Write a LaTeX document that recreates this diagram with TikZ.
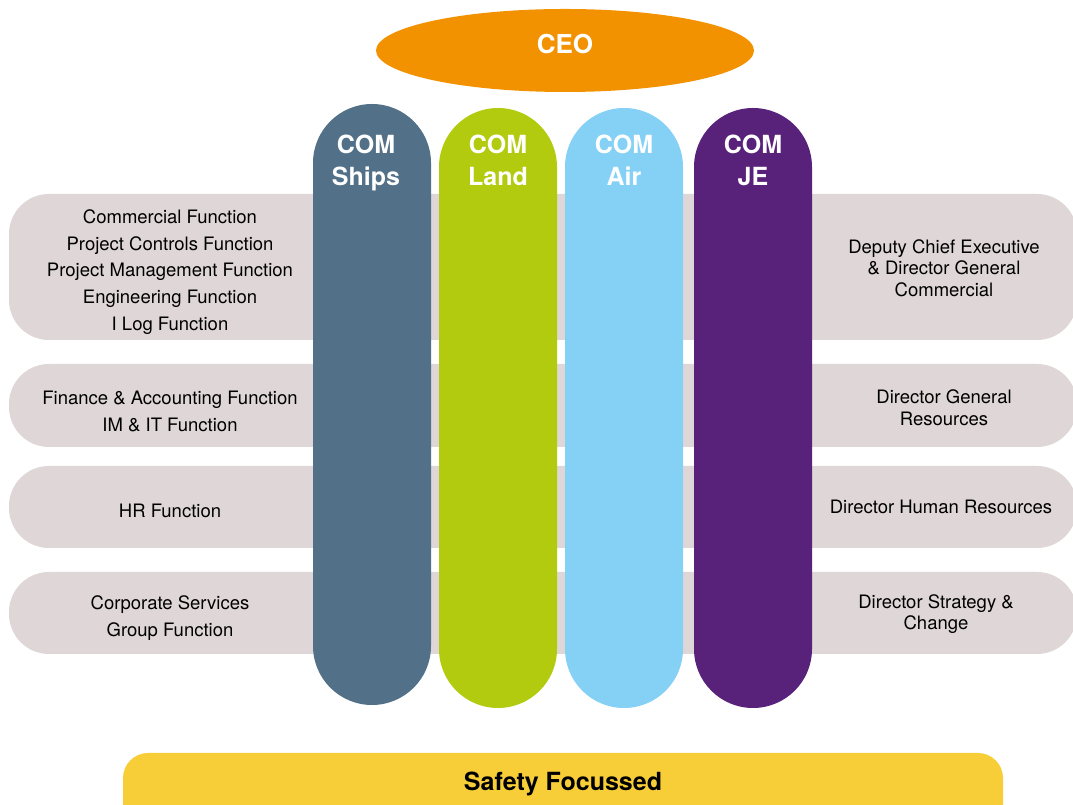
\documentclass[tikz,border=0pt]{standalone}
\usepackage{fontspec}
\setmainfont{TeX Gyre Heros}
\usepackage{tikz}
\usetikzlibrary{positioning,shapes.geometric}

\definecolor{ceoorange}{HTML}{F39200}
\definecolor{shipsblue}{HTML}{527189}
\definecolor{landgreen}{HTML}{B2CB0E}
\definecolor{airblue}{HTML}{84D1F5}
\definecolor{jepurple}{HTML}{58217A}
\definecolor{bandgrey}{HTML}{DFD7D7}
\definecolor{safetyyellow}{HTML}{F7CE38}

\tikzset{
  band/.style={rectangle, fill=bandgrey, rounded corners=40pt, minimum width=1068pt, inner sep=0pt},
  pillar/.style={rectangle, rounded corners=59pt, minimum width=118pt, minimum height=600pt, inner sep=0pt},
  comtext/.style={text=white, font=\fontsize{25}{32}\selectfont\bfseries, align=center, inner sep=0pt},
  lefttext/.style={font=\fontsize{18.5}{26.8}\selectfont, align=center, inner sep=0pt},
  righttext/.style={font=\fontsize{18.5}{21.5}\selectfont, align=center, inner sep=0pt},
}

\begin{document}
\begin{tikzpicture}[x=1pt, y=1pt]
    \useasboundingbox (0,0) rectangle (1073,805);

    % bands behind the pillars
    \node[band, minimum height=146pt] (band1) at (543,538) {};
    \node[band, minimum height=83pt] (band2) at (543,399.5) {};
    \node[band, minimum height=82pt] (band3) at (543,298) {};
    \node[band, minimum height=82pt] (band4) at (543,192) {};

    \node[lefttext] (fcommercial) at (170,0 |- band1) [yshift=-5pt] {Commercial Function\\Project Controls Function\\Project Management Function\\Engineering Function\\I Log Function};
    \node[lefttext] (ffinance) at (170,0 |- band2) [yshift=-6pt] {Finance \& Accounting Function\\IM \& IT Function};
    \node[lefttext] (fhr) at (170,0 |- band3) [yshift=-4pt] {HR Function};
    \node[lefttext] (fcorporate) at (170,0 |- band4) [yshift=-5pt] {Corporate Services\\Group Function};

    \node[righttext] (dgcommercial) at (944,0 |- band1) [yshift=-1pt] {Deputy Chief Executive\\\& Director General\\Commercial};
    \node[righttext] (dgresources) at (944,0 |- band2) [yshift=-2pt] {Director General\\Resources};
    \node[righttext] (dhr) at (941,0 |- band3) {Director Human Resources};
    \node[righttext] (dstrategy) at (936,0 |- band4) [yshift=-1pt] {Director Strategy \&\\Change};

    % the four pillars
    \node[pillar, fill=shipsblue, minimum height=601pt] (ships) at (372,400.5) {};
    \node[pillar, fill=landgreen] (land) at (498,397) {};
    \node[pillar, fill=airblue] (air) at (624,397) {};
    \node[pillar, fill=jepurple] (je) at (753,397) {};

    \node[comtext, anchor=north] (tships) at (ships.north |- 0,670) [xshift=-6pt] {COM\\Ships};
    \node[comtext, anchor=north] (tland) at (land.north |- 0,670) {COM\\Land};
    \node[comtext, anchor=north] (tair) at (air.north |- 0,670) {COM\\Air};
    \node[comtext, anchor=north] (tje) at (je.north |- 0,670) {COM\\JE};

    % top and bottom
    \node[ellipse, fill=ceoorange, minimum width=378pt, minimum height=83pt, inner sep=0pt] (ceo) at (565,754.5) {};
    \node[comtext, font=\fontsize{26}{30}\selectfont\bfseries] (tceo) at ([yshift=6pt]ceo.center) {CEO};

    \node[rectangle, fill=safetyyellow, rounded corners=25pt, minimum width=880pt, minimum height=90pt] (safety) at (563,7) {};
    \node[font=\fontsize{25}{30}\selectfont\bfseries, inner sep=0pt] (tsafety) at (563,21) {Safety Focussed};
\end{tikzpicture}
\end{document}
